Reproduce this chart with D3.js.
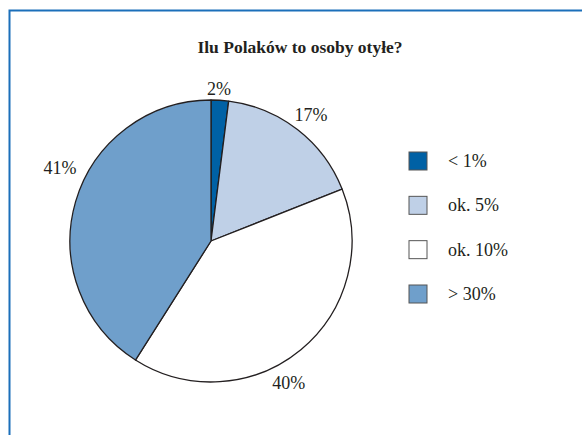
<!DOCTYPE html>
<html>
<head>
<meta charset="utf-8">
<script src="https://cdn.jsdelivr.net/npm/d3@7"></script>
<style>
  body { margin: 0; background: #fff; }
  svg text { font-family: 'Liberation Serif', 'Times New Roman', serif; }
</style>
</head>
<body>
<svg id="chart" width="582" height="435"></svg>
<script>
const categories = ["< 1%", "ok. 5%", "ok. 10%", "> 30%"];
const shares = [2, 17, 40, 41];
const labels = ["2%", "17%", "40%", "41%"];
const colors = ["#0061a5", "#bfd0e7", "#ffffff", "#6f9fcb"];
const title = "Ilu Polaków to osoby otyłe?";

const svg = d3.select("#chart");

// frame (left + top only)
svg.append("path")
    .attr("d", "M9.5,435 V10.5 H582")
    .attr("fill", "none")
    .attr("stroke", "#1b6fba")
    .attr("stroke-width", 2);

svg.append("text")
    .attr("x", 300)
    .attr("y", 53)
    .attr("text-anchor", "middle")
    .attr("font-size", 17.5)
    .attr("font-weight", "bold")
    .attr("fill", "#231f20")
    .text(title);

const cx = 211, cy = 241, r = 141;

const pie = d3.pie().sort(null).value((d) => d);
const arcs = pie(shares);
const arc = d3.arc().innerRadius(0).outerRadius(r);

let g = svg.append("g").attr("transform", `translate(${cx},${cy})`);

g.selectAll("path")
    .data(arcs)
    .enter()
    .append("path")
    .attr("d", arc)
    .attr("fill", (d, i) => colors[i])
    .attr("stroke", "#231f20")
    .attr("stroke-width", 1.3)
    .attr("stroke-linejoin", "round");

// label positions as radius/angle offsets around each slice
const labelRadius = [152, 161, 162, 168];
const labelShift = [-0.01, 0.01, 0.19, 0.17];
g.selectAll("text.lbl")
    .data(arcs)
    .enter()
    .append("text")
    .attr("class", "lbl")
    .attr("text-anchor", "middle")
    .attr("font-size", 18)
    .attr("fill", "#231f20")
    .attr("x", (d, i) => {
        let a = (d.startAngle + d.endAngle) / 2 + labelShift[i];
        return Math.sin(a) * labelRadius[i];
    })
    .attr("y", (d, i) => {
        let a = (d.startAngle + d.endAngle) / 2 + labelShift[i];
        return -Math.cos(a) * labelRadius[i] + 6;
    })
    .text((d, i) => labels[i]);

// legend
const legendY = d3.scalePoint().domain(categories).range([161, 294]);

let legend = svg.append("g");
legend.selectAll("rect")
    .data(categories)
    .enter()
    .append("rect")
    .attr("x", 409)
    .attr("y", (d) => legendY(d) - 9)
    .attr("width", 18)
    .attr("height", 18)
    .attr("fill", (d, i) => colors[i])
    .attr("stroke", "#555")
    .attr("stroke-width", 1);

legend.selectAll("text")
    .data(categories)
    .enter()
    .append("text")
    .attr("x", 448)
    .attr("y", (d) => legendY(d) + 6)
    .attr("font-size", 18)
    .attr("fill", "#231f20")
    .text((d) => d);
</script>
</body>
</html>
